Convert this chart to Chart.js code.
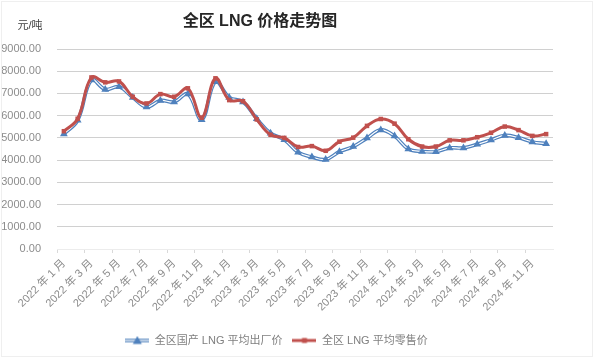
<!DOCTYPE html>
<html>
<head>
<meta charset="utf-8">
<script src="https://cdn.jsdelivr.net/npm/chart.js@4"></script>
<style>
  html, body { margin: 0; padding: 0; background: #fff; }
  #wrap { position: relative; width: 594px; height: 358px; }
  #frame { position: absolute; left: 1px; top: 1px; width: 590px; height: 354px; border: 1px solid #efefef; pointer-events: none; }
</style>
</head>
<body>
<div id="wrap">
  <canvas id="LineChart" width="594" height="358"></canvas>
  <div id="frame"></div>
</div>
<script>
const months = [
  "2022 年 1 月", "2022 年 2 月", "2022 年 3 月", "2022 年 4 月", "2022 年 5 月", "2022 年 6 月",
  "2022 年 7 月", "2022 年 8 月", "2022 年 9 月", "2022 年 10 月", "2022 年 11 月", "2022 年 12 月",
  "2023 年 1 月", "2023 年 2 月", "2023 年 3 月", "2023 年 4 月", "2023 年 5 月", "2023 年 6 月",
  "2023 年 7 月", "2023 年 8 月", "2023 年 9 月", "2023 年 10 月", "2023 年 11 月", "2023 年 12 月",
  "2024 年 1 月", "2024 年 2 月", "2024 年 3 月", "2024 年 4 月", "2024 年 5 月", "2024 年 6 月",
  "2024 年 7 月", "2024 年 8 月", "2024 年 9 月", "2024 年 10 月", "2024 年 11 月", "2024 年 12 月"
];

// 全区国产 LNG 平均出厂价
const factoryPrice = [
  5180, 5790, 7600, 7180, 7300, 6820, 6390, 6680, 6620, 6970, 5820, 7530,
  6820, 6620, 5860, 5210, 4920, 4350, 4140, 4030, 4380, 4610, 4990, 5360,
  5080, 4500, 4390, 4380, 4550, 4550, 4710, 4910, 5110, 5010, 4820, 4740
];

// 全区 LNG 平均零售价
const retailPrice = [
  5300, 5860, 7720, 7500, 7540, 6850, 6550, 6970, 6850, 7230, 5910, 7680,
  6700, 6650, 5830, 5140, 5000, 4590, 4630, 4420, 4830, 5010, 5540, 5850,
  5640, 4940, 4610, 4610, 4890, 4890, 5030, 5230, 5510, 5350, 5090, 5170
];

const yTicks = [0, 1000, 2000, 3000, 4000, 5000, 6000, 7000, 8000, 9000];

const BLUE = '#4F81BD';
const RED = '#C0504D';
const FONT = '"Liberation Sans", "Noto Sans CJK SC", sans-serif';

// little pictures for the legend: line + marker
function legendIcon(kind) {
  const c = document.createElement('canvas');
  c.width = 24; c.height = 10;
  const g = c.getContext('2d');
  if (kind === 'blue') {
    g.strokeStyle = BLUE; g.lineWidth = 3.5;
    g.beginPath(); g.moveTo(0, 5); g.lineTo(24, 5); g.stroke();
    g.strokeStyle = '#fff'; g.lineWidth = 1.2;
    g.beginPath(); g.moveTo(0, 5); g.lineTo(24, 5); g.stroke();
    g.fillStyle = BLUE;
    g.beginPath(); g.moveTo(12, 0.5); g.lineTo(16.5, 8.5); g.lineTo(7.5, 8.5); g.closePath(); g.fill();
  } else {
    g.strokeStyle = RED; g.lineWidth = 3;
    g.beginPath(); g.moveTo(0, 5); g.lineTo(24, 5); g.stroke();
    g.fillStyle = RED;
    g.fillRect(9.5, 2.5, 5, 5);
  }
  return c;
}

const headerPlugin = {
  id: 'header',
  afterDraw(chart) {
    const g = chart.ctx;
    g.save();
    g.textBaseline = 'middle';
    g.textAlign = 'center';
    g.fillStyle = '#262626';
    g.font = 'bold 16px ' + FONT;
    g.fillText('全区 LNG 价格走势图', 260, 22);
    g.fillStyle = '#404040';
    g.font = '11px ' + FONT;
    g.fillText('元/吨', 30, 26);
    g.restore();
  }
};

const ctx = document.getElementById('LineChart').getContext('2d');
let chart = new Chart(ctx, {
  type: 'line',
  data: {
    labels: months,
    datasets: [
      {
        label: '全区 LNG 平均零售价',
        data: retailPrice,
        borderColor: RED,
        backgroundColor: RED,
        borderWidth: 3,
        tension: 0.4,
        pointStyle: 'rect',
        pointRadius: 3.2,
        pointBorderWidth: 0,
        fill: false
      },
      {
        label: 'blue-markers',
        data: factoryPrice,
        showLine: false,
        pointStyle: 'triangle',
        pointRadius: 4.5,
        pointBorderWidth: 0,
        backgroundColor: BLUE,
        borderColor: BLUE
      },
      {
        label: 'blue-gap',
        data: factoryPrice,
        borderColor: '#ffffff',
        borderWidth: 1.2,
        tension: 0.4,
        pointRadius: 0,
        fill: false
      },
      {
        label: '全区国产 LNG 平均出厂价',
        data: factoryPrice,
        borderColor: BLUE,
        backgroundColor: BLUE,
        borderWidth: 3.6,
        tension: 0.4,
        pointRadius: 0,
        fill: false
      }
    ]
  },
  options: {
    responsive: false,
    animation: false,
    layout: { padding: { top: 49, right: 41, left: 0, bottom: 2 } },
    plugins: {
      title: { display: false },
      tooltip: { enabled: false },
      legend: {
        position: 'bottom',
        labels: {
          usePointStyle: true,
          pointStyleWidth: 24,
          padding: 10,
          color: '#7f7f7f',
          font: { family: FONT, size: 11 },
          generateLabels() {
            return [
              { text: '全区国产 LNG 平均出厂价', pointStyle: legendIcon('blue'), datasetIndex: 3, fontColor: '#7f7f7f', lineWidth: 0, hidden: false },
              { text: '全区 LNG 平均零售价', pointStyle: legendIcon('red'), datasetIndex: 0, fontColor: '#7f7f7f', lineWidth: 0, hidden: false }
            ];
          }
        }
      }
    },
    scales: {
      x: {
        offset: true,
        grid: {
          offset: true,
          drawOnChartArea: false,
          tickLength: 4,
          color: (c) => (c.index % 2 === 0 ? '#d9d9d9' : 'rgba(0,0,0,0)')
        },
        border: { color: '#ececec' },
        ticks: {
          autoSkip: false,
          minRotation: 45,
          maxRotation: 45,
          padding: 4,
          color: '#8c8c8c',
          font: { family: FONT, size: 11 },
          callback: (v, i) => (i % 2 === 0 ? months[i] : '')
        },
        afterFit(s) { s.height = 76; }
      },
      y: {
        min: 0,
        max: 9000,
        afterBuildTicks(s) { s.ticks = yTicks.map(v => ({ value: v })); },
        grid: {
          drawTicks: false,
          color: (c) => (c.tick && c.tick.value === 0 ? '#ececec' : '#d0d0d0')
        },
        border: { display: false },
        ticks: {
          padding: 16,
          color: '#8c8c8c',
          font: { family: FONT, size: 11 },
          callback: (v) => Number(v).toFixed(2)
        },
        afterFit(s) { s.width = 57; }
      }
    }
  },
  plugins: [headerPlugin]
});
</script>
</body>
</html>
